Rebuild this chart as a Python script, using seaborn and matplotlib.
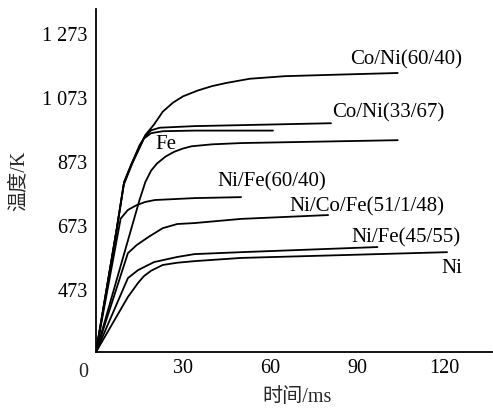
import matplotlib
matplotlib.use("Agg")
import matplotlib.pyplot as plt
import seaborn as sns
import pandas as pd

# ---- data (time in ms, temperature in K) ----
labels = ["Co/Ni(60/40)", "Co/Ni(33/67)", "Fe", "Fe_b", "Ni/Fe(60/40)",
          "Ni/Co/Fe(51/1/48)", "Ni/Fe(45/55)", "Ni"]

t_coni6040 = [0, 7.2, 9.7, 12.4, 17, 20, 23, 26.5, 30, 35, 40, 45, 53, 65, 80, 104]
T_coni6040 = [279, 666, 810, 870, 957, 990, 1030, 1058, 1078, 1096, 1110, 1120, 1133, 1141, 1145, 1151]

t_coni3367 = [0, 7.2, 9.7, 12.4, 15, 17, 19, 22, 34, 50, 81]
T_coni3367 = [279, 666, 810, 870, 925, 954, 972, 980, 985, 988, 994]

t_fe = [0, 7, 9.5, 12.4, 16.5, 19, 23, 34, 61]
T_fe = [279, 656, 800, 866, 946, 963, 969, 971, 971]

t_fe_b = [0, 15, 17, 19, 21, 24, 27, 30, 33, 40, 50, 104]
T_fe_b = [279, 754, 810, 846, 868, 890, 905, 915, 922, 928, 932, 941]

t_nife6040 = [0, 8.5, 11, 14, 17, 20.3, 34, 50]
T_nife6040 = [279, 696, 723, 738, 748, 754, 760, 763]

t_nicofe = [0, 11, 14, 18, 23, 28, 34, 50, 80]
T_nicofe = [279, 588, 613, 638, 666, 679, 682, 695, 707]

t_nife4555 = [0, 11, 14.5, 20, 28, 34, 50, 97]
T_nife4555 = [279, 510, 535, 560, 576, 585, 591, 607]

t_ni = [0, 11, 14.5, 16.5, 19, 23, 28, 34, 50, 121]
T_ni = [279, 451, 495, 516, 533, 551, 558, 563, 573, 591]

# curve annotations: (text, t, T)
ann_text = ["Co/Ni(60/40)", "Co/Ni(33/67)", "Fe", "Ni/Fe(60/40)",
            "Ni/Co/Fe(51/1/48)", "Ni/Fe(45/55)", "Ni"]
ann_t = [87.6, 81.4, 20.3, 42, 66.6, 88, 119]
ann_T = [1191, 1026, 926, 810, 732, 635, 541]

yticks = [473, 673, 873, 1073, 1273]
ytick_labels = ["473", "673", "873", "1 073", "1 273"]
xticks = [30, 60, 90, 120]
xtick_labels = ["30", "60", "90", "120"]

series = [(t_coni6040, T_coni6040), (t_coni3367, T_coni3367), (t_fe, T_fe),
          (t_fe_b, T_fe_b), (t_nife6040, T_nife6040), (t_nicofe, T_nicofe),
          (t_nife4555, T_nife4555), (t_ni, T_ni)]

# ---- plot ----
sns.set_theme(style="white")
plt.rcParams["font.family"] = ["Liberation Serif", "Noto Sans CJK SC", "DejaVu Sans"]

fig = plt.figure(figsize=(4.93, 4.08), dpi=100)
ax = fig.add_axes([96 / 493, 56 / 408, 396 / 493, 343 / 408])

for name, (tt, TT) in zip(labels, series):
    df = pd.DataFrame({"t": tt, "T": TT})
    sns.lineplot(data=df, x="t", y="T", ax=ax, color="black", linewidth=1.3,
                 estimator=None, sort=False)

for txt, tx, ty in zip(ann_text, ann_t, ann_T):
    ax.text(tx, ty, txt, fontsize=15, ha="left", va="center", color="black")

ax.set_xlim(0, 136.5)
ax.set_ylim(279, 1351)
ax.set_xticks(xticks)
ax.set_xticklabels(xtick_labels)
ax.set_yticks(yticks)
ax.set_yticklabels(ytick_labels)
ax.tick_params(axis="both", direction="in", length=8, width=1.2, colors="black",
               labelsize=14.5)
ax.tick_params(axis="y", pad=6)
ax.tick_params(axis="x", pad=5)
ax.set_xlabel("")
ax.set_ylabel("")
for s in ["top", "right"]:
    ax.spines[s].set_visible(False)
for s in ["left", "bottom"]:
    ax.spines[s].set_color("black")
    ax.spines[s].set_linewidth(1.3)

# origin label
ax.annotate("0", xy=(0, 279), xytext=(-9, -8), textcoords="offset points",
            ha="center", va="top", fontsize=14.5)

fig.text(297 / 493, 1 - 398 / 408, "时间/ms", ha="center", va="center", fontsize=14.5)
fig.text(19 / 493, 1 - 181 / 408, "温度/K", ha="center", va="center",
         rotation=90, fontsize=14.5)

fig.savefig("out.png", dpi=100)
